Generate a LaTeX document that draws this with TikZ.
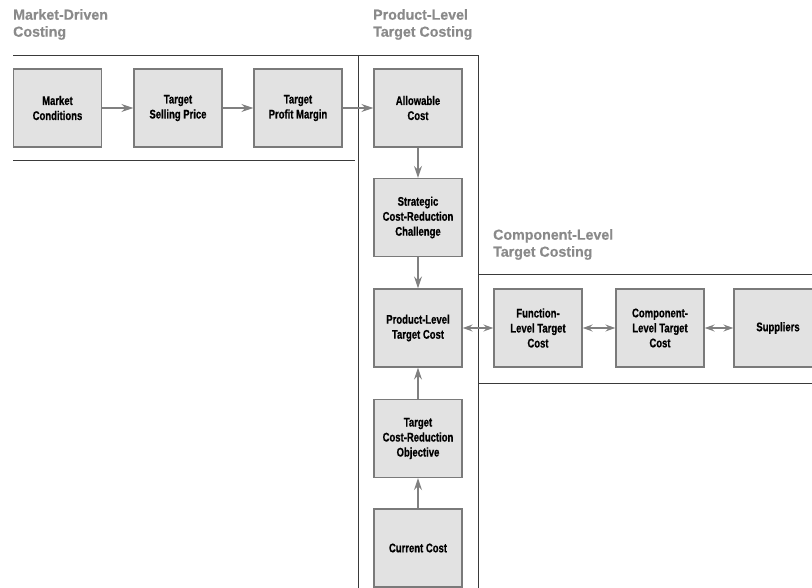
\documentclass[tikz,border=0pt]{standalone}
\usepackage{fontspec}
\setmainfont{Liberation Sans}[FakeStretch=0.76]
\newfontfamily\boxfont{Liberation Sans Bold}[FakeStretch=0.76,FakeBold=0.6]
\newfontfamily\titlefont{Liberation Sans Bold}[FakeStretch=0.98,FakeBold=0.4]
\usetikzlibrary{arrows.meta}
\definecolor{boxfill}{HTML}{E2E2E2}
\definecolor{boxline}{HTML}{7A7A7A}
\definecolor{arrowgray}{HTML}{808080}
\definecolor{titlegray}{HTML}{8A8A8A}
\definecolor{framegray}{HTML}{3A3A3A}
\tikzset{
  costbox/.style={draw=boxline, fill=boxfill, line width=1.4pt, minimum width=88pt, minimum height=78pt, inner sep=1pt, align=center, font=\boxfont\fontsize{12.5}{15}\selectfont, text=black},
  titletext/.style={anchor=north west, inner sep=0pt, align=left, text=titlegray, font=\titlefont\fontsize{14.5}{17}\selectfont},
  frame/.style={draw=framegray, line width=0.9pt},
  flow/.style={draw=arrowgray, line width=1.3pt, -{Stealth[length=12pt,width=8pt,inset=4pt]}},
  twoway/.style={draw=arrowgray, line width=1.3pt, {Stealth[length=10pt,width=7pt,inset=3.5pt]}-{Stealth[length=10pt,width=7pt,inset=3.5pt]}}
}
\begin{document}
\begin{tikzpicture}[x=1pt,y=-1pt]
\useasboundingbox (0,0) rectangle (812,588);
% frame lines
\coordinate (tl) at (13,55);
\coordinate (tr) at (478,55);
\coordinate (bl) at (13,160);
\coordinate (br) at (355,160);
\coordinate (v1t) at (358,55);
\coordinate (v1b) at (358,588);
\coordinate (v2b) at (478,588);
\coordinate (h1l) at (478,274);
\coordinate (h1r) at (812,274);
\coordinate (h2l) at (478,383);
\coordinate (h2r) at (812,383);
\draw[frame] (tl) -- (tr) -- (v2b);
\draw[frame] (bl) -- (br);
\draw[frame] (v1t) -- (v1b);
\draw[frame] (h1l) -- (h1r);
\draw[frame] (h2l) -- (h2r);
% titles
\node[titletext] (t1) at (13,9) {Market-Driven\\Costing};
\node[titletext] (t2) at (373,9) {Product-Level\\Target Costing};
\node[titletext] (t3) at (493,229) {Component-Level\\Target Costing};
% boxes
\node[costbox] (mc) at (57.5,108) {Market\\Conditions};
\node[costbox] (sp) at (178,108) {Target\\Selling Price};
\node[costbox] (pm) at (298,108) {Target\\Profit Margin};
\node[costbox] (ac) at (418,108) {Allowable\\Cost};
\node[costbox] (sc) at (418,217.5) {Strategic\\Cost-Reduction\\Challenge};
\node[costbox] (pl) at (418,328) {Product-Level\\Target Cost};
\node[costbox] (ob) at (418,438.5) {Target\\Cost-Reduction\\Objective};
\node[costbox] (cc) at (418,548) {Current Cost};
\node[costbox] (fl) at (538,328) {Function-\\Level Target\\Cost};
\node[costbox] (cl) at (660,328) {Component-\\Level Target\\Cost};
\node[costbox] (su) at (778,328) {Suppliers};
% arrows
\draw[flow] (mc) -- (sp);
\draw[flow] (sp) -- (pm);
\draw[flow] (pm) -- (ac);
\draw[flow] (ac) -- (sc);
\draw[flow] (sc) -- (pl);
\draw[flow] (ob) -- (pl);
\draw[flow] (cc) -- (ob);
\draw[twoway] (pl) -- (fl);
\draw[twoway] (fl) -- (cl);
\draw[twoway] (cl) -- (su);
\end{tikzpicture}
\end{document}
